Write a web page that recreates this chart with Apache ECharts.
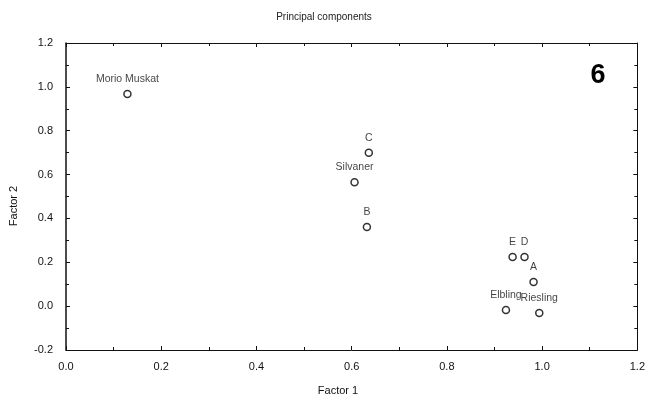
<!DOCTYPE html>
<html>
<head>
<meta charset="utf-8">
<script src="https://cdn.jsdelivr.net/npm/echarts@6/dist/echarts.min.js"></script>
<style>
  html, body { margin: 0; padding: 0; background: #fff; }
  #chart { width: 648px; height: 399px; }
</style>
</head>
<body>
<div id="chart"></div>
<script>
var names = ["Morio Muskat", "C", "Silvaner", "B", "E", "D", "A", "Elbling", "Riesling"];
var factor1 = [0.129, 0.636, 0.606, 0.632, 0.938, 0.963, 0.982, 0.924, 0.994];
var factor2 = [0.967, 0.700, 0.565, 0.361, 0.224, 0.224, 0.110, -0.018, -0.031];
var x_ticks = { min: 0, max: 1.2, step: 0.2 };
var y_ticks = { min: -0.2, max: 1.2, step: 0.2 };

var chart = echarts.init(document.getElementById("chart"));

var pts = [];
for (var i = 0; i < names.length; i++) {
    pts.push([factor1[i], factor2[i], names[i]]);
}

var font = "Liberation Sans, Arial, sans-serif";
var line_col = "#111";

function fmt(v) {
    return (Math.round(v * 10) / 10).toFixed(1);
}

// box axis (top / right) with inward ticks, no labels
function side_axis(pos, rng) {
    return {
        type: "value",
        position: pos,
        min: rng.min,
        max: rng.max,
        interval: rng.step,
        axisLine: { show: true, onZero: false, lineStyle: { color: line_col, width: 1 } },
        axisTick: { show: true, inside: true, length: 4, lineStyle: { color: line_col } },
        minorTick: { show: true, splitNumber: 2, length: 3, lineStyle: { color: line_col } },
        axisLabel: { show: false },
        splitLine: { show: false }
    };
}

var option = {
    animation: false,
    backgroundColor: "#fff",
    title: {
        text: "Principal components",
        left: "center",
        top: 7,
        textStyle: { fontFamily: font, fontSize: 10, fontWeight: "normal", color: "#222" }
    },
    grid: { left: 66, right: 6, top: 43, bottom: 49 },
    xAxis: [{
        type: "value",
        position: "bottom",
        min: x_ticks.min,
        max: x_ticks.max,
        interval: x_ticks.step,
        axisLine: { show: true, onZero: false, lineStyle: { color: line_col, width: 1 } },
        axisTick: { show: true, inside: true, length: 4, lineStyle: { color: line_col } },
        minorTick: { show: true, splitNumber: 2, length: 3, lineStyle: { color: line_col } },
        axisLabel: { fontFamily: font, fontSize: 11, color: "#111", margin: 11, formatter: fmt },
        splitLine: { show: false }
    }, side_axis("top", x_ticks)],
    yAxis: [{
        type: "value",
        position: "left",
        min: y_ticks.min,
        max: y_ticks.max,
        interval: y_ticks.step,
        axisLine: { show: true, onZero: false, lineStyle: { color: line_col, width: 1.5 } },
        axisTick: { show: true, inside: true, length: 4, lineStyle: { color: line_col } },
        minorTick: { show: true, splitNumber: 2, length: 3, lineStyle: { color: line_col } },
        axisLabel: { fontFamily: font, fontSize: 11, color: "#111", margin: 13, formatter: fmt },
        splitLine: { show: false }
    }, side_axis("right", y_ticks)],
    graphic: [{
        type: "text",
        x: 598,
        y: 76,
        style: { text: "6", font: "bold 27px " + font, fill: "#000", align: "center", verticalAlign: "middle" }
    }, {
        type: "text",
        x: 338,
        y: 391,
        style: { text: "Factor 1", font: "11px " + font, fill: "#111", align: "center", verticalAlign: "middle" }
    }, {
        type: "text",
        x: 14,
        y: 206,
        rotation: Math.PI / 2,
        style: { text: "Factor 2", font: "11px " + font, fill: "#111", align: "center", verticalAlign: "middle" }
    }],
    series: [{
        type: "scatter",
        xAxisIndex: 0,
        yAxisIndex: 0,
        data: pts,
        symbol: "circle",
        symbolSize: 7,
        itemStyle: { color: "#fff", borderColor: "#000", borderWidth: 1.5 },
        label: {
            show: true,
            position: "top",
            distance: 5,
            formatter: function (p) { return p.data[2]; },
            fontFamily: font,
            fontSize: 10.5,
            color: "#111"
        }
    }]
};

chart.setOption(option);
</script>
</body>
</html>
